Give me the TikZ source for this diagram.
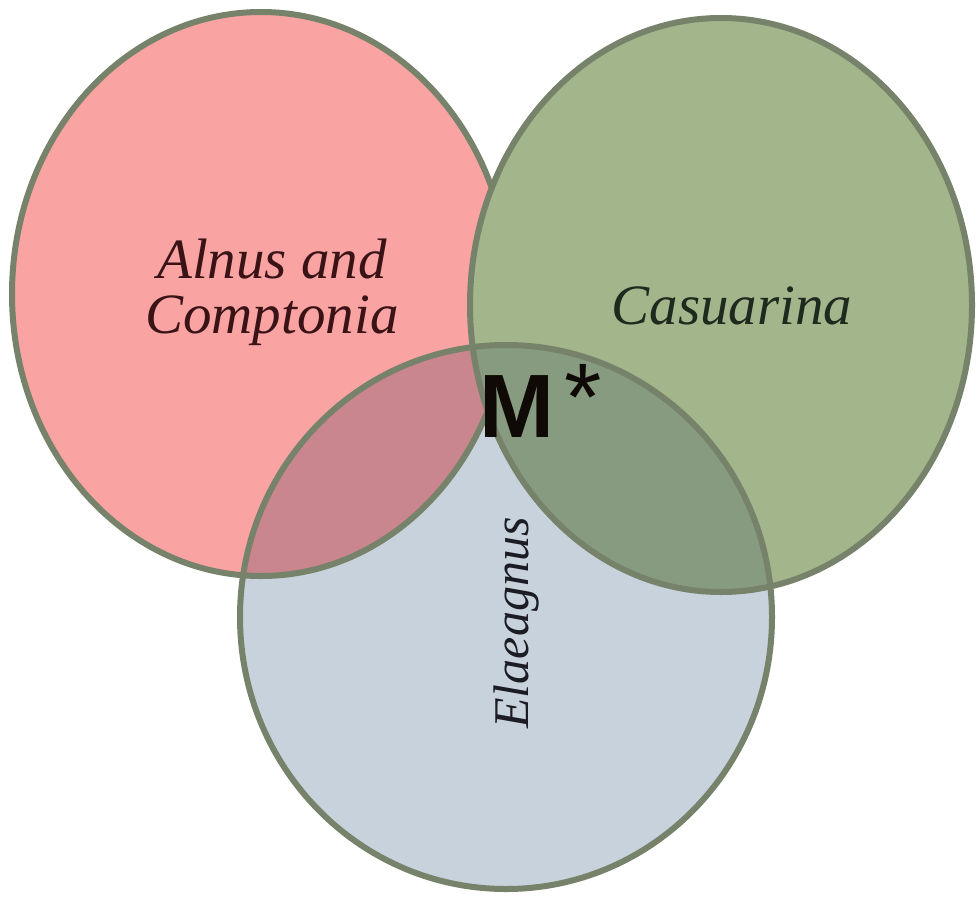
\documentclass[tikz,border=0pt]{standalone}
\usepackage{fontspec}
\setmainfont{Liberation Serif}
\newfontfamily\labelsans{Liberation Sans}
\begin{document}
\definecolor{pinkfill}{HTML}{F9A3A2}
\definecolor{greenfill}{HTML}{A3B68B}
\definecolor{bluefill}{HTML}{C8D2DC}
\definecolor{pinkblue}{HTML}{C9868F}
\definecolor{greenblue}{HTML}{879B81}
\definecolor{rim}{HTML}{76826A}
\definecolor{alnuscol}{HTML}{3A1317}
\definecolor{casuarcol}{HTML}{1E2A1E}
\definecolor{elaeacol}{HTML}{1C1C24}
\begin{tikzpicture}[x=1pt,y=-1pt,
  rimline/.style={draw=rim,line width=6pt},
  setlabel/.style={inner sep=0pt},
]
\useasboundingbox (0,0) rectangle (976,902);
\fill[white] (0,0) rectangle (976,902);

% centres of the three sets
\coordinate (pc) at (261,294);
\coordinate (gc) at (721,305);
\coordinate (bc) at (506,617);

\def\pinkset{(pc) ellipse [x radius=249pt, y radius=282pt]}
\def\greenset{(gc) ellipse [x radius=251pt, y radius=287pt]}
\def\blueset{(bc) ellipse [x radius=266pt, y radius=272pt]}

% plain fills
\fill[bluefill] \blueset;
\fill[pinkfill] \pinkset;
\fill[greenfill] \greenset;

% overlaps with the lower set
\begin{scope}
  \clip \blueset;
  \fill[pinkblue] \pinkset;
  \fill[greenblue] \greenset;
\end{scope}

% outlines: the left rim is hidden where the right set lies over it
\begin{scope}[even odd rule]
  \clip (-20,-20) rectangle (1000,920) \greenset;
  \draw[rimline] \pinkset;
\end{scope}
\draw[rimline] \greenset;
\draw[rimline] \blueset;

% set labels
\node[setlabel,anchor=north,align=center,text=alnuscol,
      font=\itshape\fontsize{57}{55}\selectfont] (alnus) at (272,239)
      {Alnus and\\Comptonia};
\node[setlabel,anchor=base,text=casuarcol,
      font=\itshape\fontsize{57}{60}\selectfont] (casuarina) at (732,324) {Casuarina};
\node[setlabel,anchor=base,text=elaeacol,rotate=90,
      font=\itshape\fontsize{50}{52}\selectfont] (elaeagnus) at (528,623) {Elaeagnus};

% centre mark
\node[anchor=base west,inner sep=0pt,text=black!92!brown,
      font=\labelsans\fontsize{90}{92}\selectfont] (mstar) at (479,437)
      {{\bfseries M}\kern10pt\raisebox{7pt}{\fontsize{96}{96}\selectfont *}};
\end{tikzpicture}
\end{document}
